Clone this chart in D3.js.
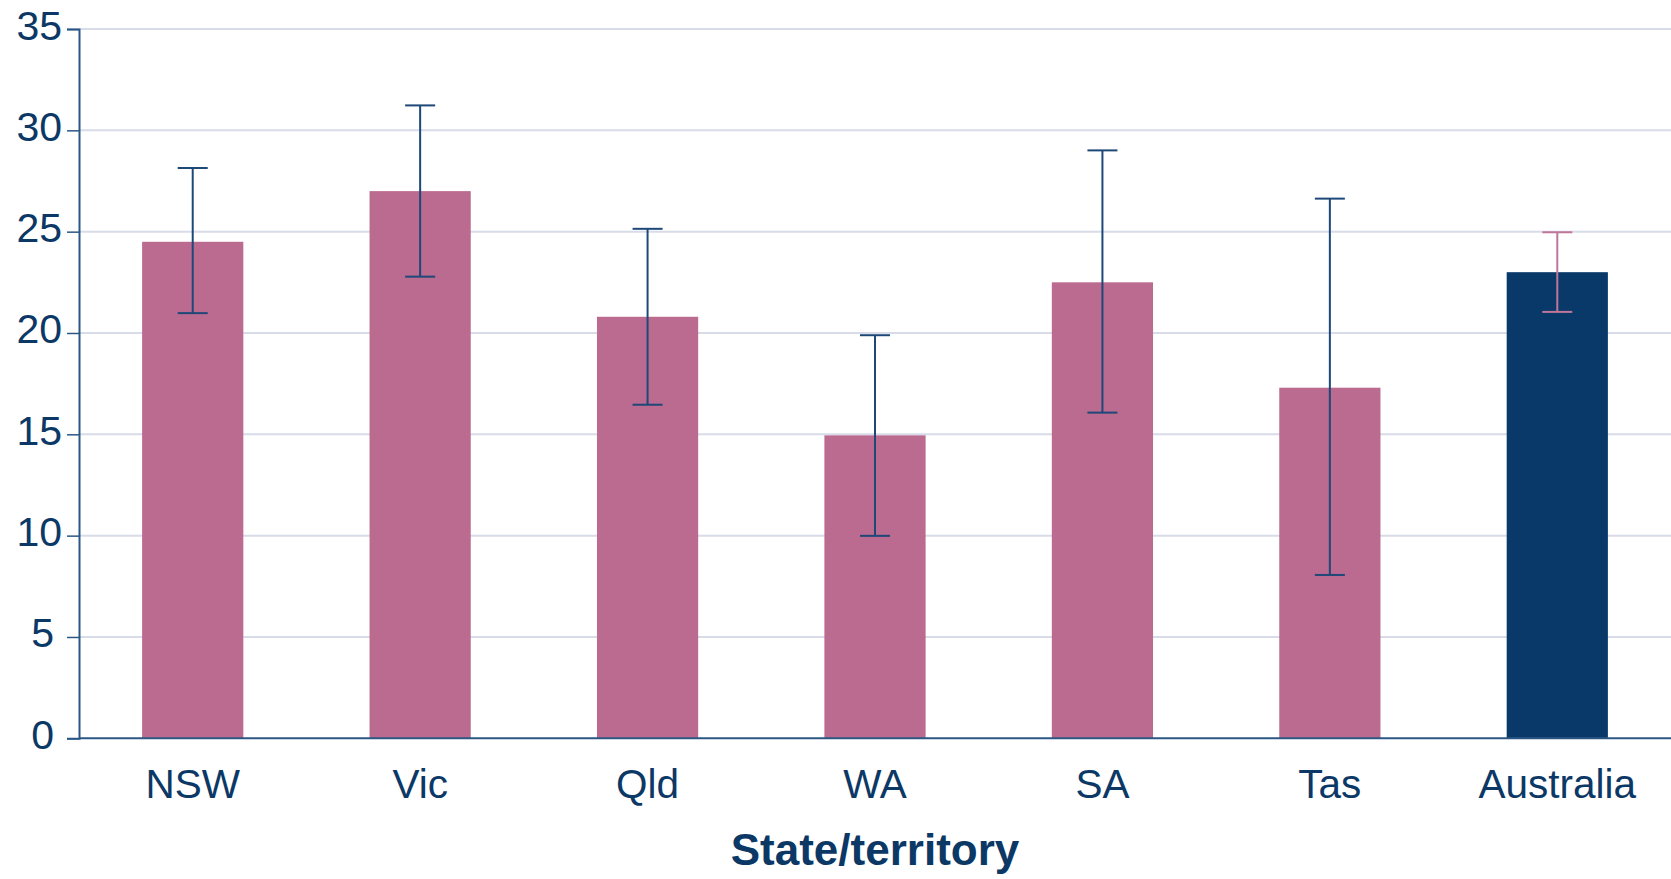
<!DOCTYPE html>
<html>
<head>
<meta charset="utf-8">
<script src="https://cdn.jsdelivr.net/npm/d3@7"></script>
<style>
  body { margin: 0; background: #fff; }
  svg { display: block; font-family: "Liberation Sans", Arial, sans-serif; }
</style>
</head>
<body>
<div id="chart"></div>
<script>
// values
const states = ["NSW", "Vic", "Qld", "WA", "SA", "Tas", "Australia"]
const rates = [24.5, 27.0, 20.8, 14.95, 22.5, 17.3, 23.0]
const lower = [20.98, 22.78, 16.46, 9.99, 16.07, 8.06, 21.04]
const upper = [28.14, 31.23, 25.14, 19.89, 29.01, 26.63, 24.97]
const yTicks = [0, 5, 10, 15, 20, 25, 30, 35]

const width = 1671, height = 879
const margin = {top: 29, right: 0, bottom: 140, left: 79}

const pink = "#bb6a90", navy = "#083968", textColor = "#0c3866"

const svg = d3.select("#chart").append("svg")
  .attr("width", width)
  .attr("height", height)

const x = d3.scaleBand()
  .domain(states)
  .range([margin.left, width - margin.right])
  .paddingInner(0.555)
  .paddingOuter(0.2775)

const y = d3.scaleLinear()
  .domain([0, 35])
  .range([height - margin.bottom - 0.7, margin.top])

// gridlines
svg.append("g")
  .selectAll("line")
  .data(yTicks.filter(d => d > 0))
  .join("line")
    .attr("x1", margin.left)
    .attr("x2", width)
    .attr("y1", d => y(d))
    .attr("y2", d => y(d))
    .attr("stroke", "#d8dce9")
    .attr("stroke-width", 2)

// bars
svg.append("g")
  .selectAll("rect")
  .data(states)
  .join("rect")
    .attr("x", d => x(d))
    .attr("y", (d, i) => y(rates[i]))
    .attr("width", x.bandwidth())
    .attr("height", (d, i) => y(0) - y(rates[i]))
    .attr("fill", d => d == "Australia" ? navy : pink)

// error bars
const capW = 30
const err = svg.append("g")
  .selectAll("g")
  .data(states)
  .join("g")
    .attr("stroke", d => d == "Australia" ? "#c0759a" : "#1d4878")
    .attr("stroke-width", 2)
const cx = d => x(d) + x.bandwidth() / 2
err.append("line")
  .attr("x1", cx).attr("x2", cx)
  .attr("y1", (d, i) => y(lower[i]))
  .attr("y2", (d, i) => y(upper[i]))
err.append("line")
  .attr("x1", d => cx(d) - capW / 2).attr("x2", d => cx(d) + capW / 2)
  .attr("y1", (d, i) => y(upper[i]))
  .attr("y2", (d, i) => y(upper[i]))
err.append("line")
  .attr("x1", d => cx(d) - capW / 2).attr("x2", d => cx(d) + capW / 2)
  .attr("y1", (d, i) => y(lower[i]))
  .attr("y2", (d, i) => y(lower[i]))

// y axis
const yAxis = svg.append("g")
  .attr("transform", `translate(${margin.left},0)`)
  .call(d3.axisLeft(y).tickValues(yTicks).tickSize(12).tickPadding(5))
yAxis.select(".domain").attr("stroke", "#2b5785").attr("stroke-width", 2)
yAxis.selectAll(".tick line").attr("stroke", "#2b5785").attr("stroke-width", 1.5)
yAxis.selectAll(".tick text")
  .attr("fill", textColor)
  .attr("font-size", 41)
  .attr("font-family", "Liberation Sans, Arial, sans-serif")
  .attr("dy", 10)
  .attr("dx", d => d < 10 ? -8 : 0)

// x axis line
svg.append("line")
  .attr("x1", margin.left)
  .attr("x2", width)
  .attr("y1", y(0))
  .attr("y2", y(0))
  .attr("stroke", "#2b5785")
  .attr("stroke-width", 2)

// category labels
svg.append("g")
  .selectAll("text")
  .data(states)
  .join("text")
    .attr("x", cx)
    .attr("y", 798)
    .attr("text-anchor", "middle")
    .attr("fill", textColor)
    .attr("font-size", 40.5)
    .text(d => d)

svg.append("text")
  .attr("x", (margin.left + width) / 2)
  .attr("y", 865)
  .attr("text-anchor", "middle")
  .attr("fill", textColor)
  .attr("font-size", 44)
  .attr("font-weight", "bold")
  .text("State/territory")
</script>
</body>
</html>
